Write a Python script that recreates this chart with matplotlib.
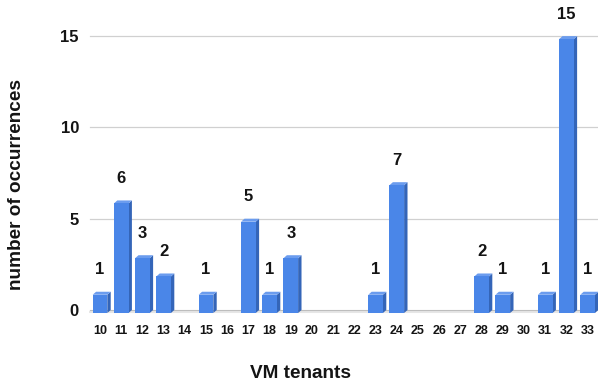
import matplotlib.pyplot as plt

plt.rcParams['font.family'] = ['Liberation Sans', 'DejaVu Sans']

tenants = list(range(10, 34))
counts = [1, 6, 3, 2, 0, 1, 0, 5, 1, 3, 0, 0, 0, 1, 7, 0, 0, 0, 2, 1, 0, 1, 15, 1]
y_ticks = [0, 5, 10, 15]

front = '#4a86e8'
side = '#3465b8'
top = '#6b9cee'
ink = '#141414'
width = 0.69
dx, dy = 0.16, 0.165  # depth of the 3d bars in data units

fig = plt.figure(figsize=(6, 3.83), dpi=100)
ax = fig.add_axes([0.149, 0.162, 0.848, 0.820])
ax.set_xlim(9.5, 33.5)
ax.set_ylim(-0.6, 16.6)

# back wall gridlines and floor
for t in y_ticks[1:]:
    ax.plot([9.55, 33.5], [t, t], color='#d0d0d0', lw=0.9, zorder=1)
ax.fill([9.55, 33.5, 33.5 - dx, 9.55 - dx], [0, 0, -dy, -dy], color='#e6e6e6', lw=0, zorder=1)
ax.plot([9.55, 33.5], [0, 0], color='#bdbdbd', lw=0.8, zorder=1)

for x, v in zip(tenants, counts):
    if v == 0:
        continue
    l, r = x - width / 2, x + width / 2
    ax.bar(x, v, width=width, bottom=-dy, color=front, zorder=3)
    ax.fill([r, r + dx, r + dx, r], [-dy, 0, v, v - dy], color=side, lw=0, zorder=2)
    ax.fill([l, r, r + dx, l + dx], [v - dy, v - dy, v, v], color=top, lw=0, zorder=2)
    ax.text(x, v + 1.2, str(v), ha='center', va='center', fontsize=12,
            fontweight='bold', color=ink)

ax.set_xticks(tenants)
ax.set_xticklabels([str(t) for t in tenants], fontsize=9, fontweight='bold', color=ink)
ax.set_yticks(y_ticks)
ax.set_yticklabels([str(t) for t in y_ticks], fontsize=12, fontweight='bold', color=ink)
ax.tick_params(axis='x', length=0, pad=3)
ax.tick_params(axis='y', length=0, pad=7.5)
for s in ax.spines.values():
    s.set_visible(False)

fig.text(0.5, 1 - 373 / 383, 'VM tenants', ha='center', va='center', fontsize=13.7,
         fontweight='bold', color=ink)
fig.text(17 / 600, 1 - 185 / 383, 'number of occurrences', ha='center', va='center',
         rotation=90, fontsize=13.7, fontweight='bold', color=ink)

fig.savefig('out.png', dpi=100)
